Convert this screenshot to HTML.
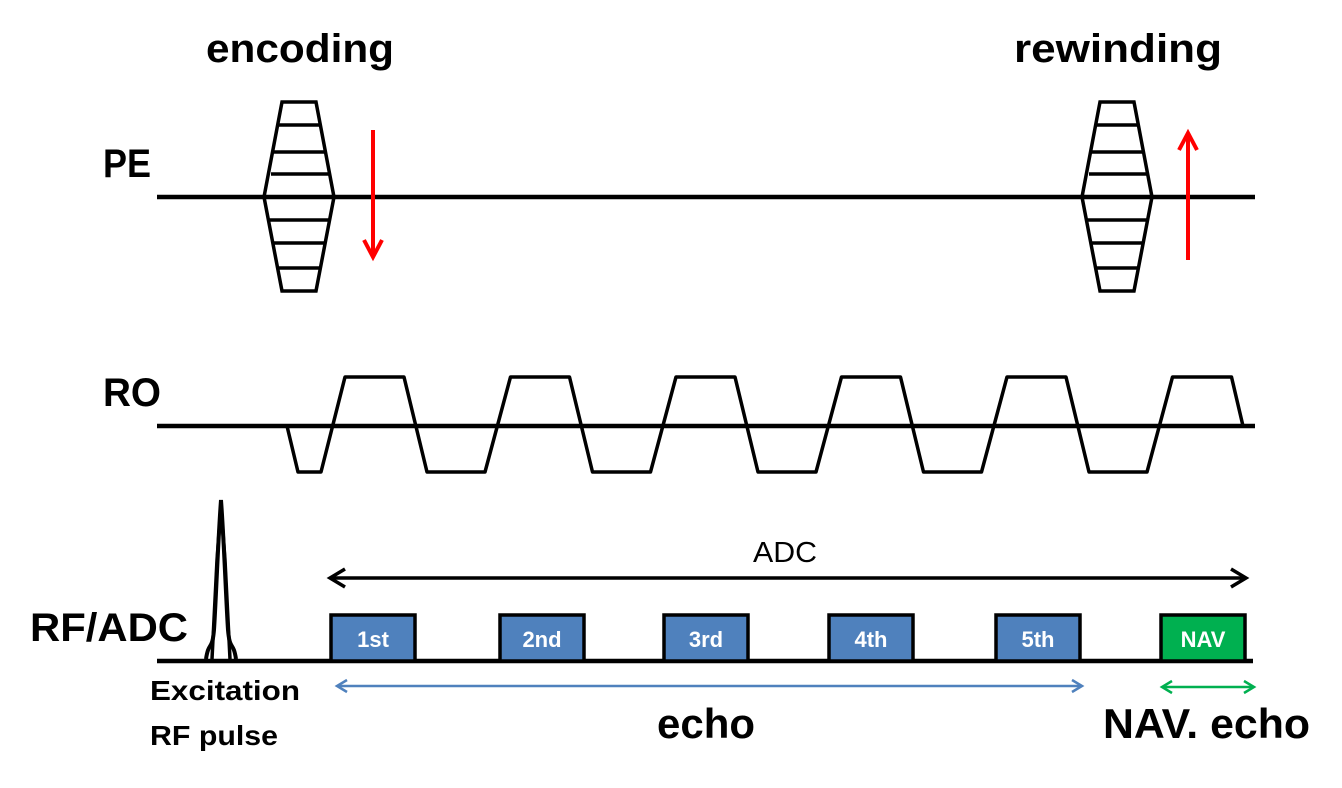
<!DOCTYPE html>
<html><head><meta charset="utf-8"><style>html,body{margin:0;padding:0;background:#fff}svg{display:block}</style></head>
<body>
<svg width="1342" height="788" viewBox="0 0 1342 788" xmlns="http://www.w3.org/2000/svg" font-family="Liberation Sans, sans-serif" font-weight="bold">
<!-- labels -->
<text x="300" y="62" font-size="40" text-anchor="middle" textLength="188" lengthAdjust="spacingAndGlyphs">encoding</text>
<text x="1118" y="62" font-size="40" text-anchor="middle" textLength="208" lengthAdjust="spacingAndGlyphs">rewinding</text>
<text x="103" y="177" font-size="40" textLength="48" lengthAdjust="spacingAndGlyphs">PE</text>
<text x="103" y="406" font-size="40" textLength="58" lengthAdjust="spacingAndGlyphs">RO</text>
<text x="30" y="641" font-size="40" textLength="158" lengthAdjust="spacingAndGlyphs">RF/ADC</text>
<text x="785" y="562" font-size="29" font-weight="normal" text-anchor="middle" textLength="64" lengthAdjust="spacingAndGlyphs">ADC</text>
<text x="150" y="700" font-size="28" textLength="150" lengthAdjust="spacingAndGlyphs">Excitation</text>
<text x="150" y="745" font-size="28" textLength="128" lengthAdjust="spacingAndGlyphs">RF pulse</text>
<text x="706" y="738" font-size="42" text-anchor="middle" textLength="98" lengthAdjust="spacingAndGlyphs">echo</text>
<text x="1103" y="738" font-size="42" textLength="207" lengthAdjust="spacingAndGlyphs">NAV. echo</text>

<g stroke="#000" stroke-width="4.5" fill="none">
<line x1="157" y1="197" x2="1255" y2="197"/>
<path d="M282,102 L316,102 L334,197 L316,291 L282,291 L264,197 Z" stroke-width="3.5"/>
<path d="M278,125 L321,125 M274,152 L325,152 M271,174 L329,174 M269,220 L330,220 M273,243 L325,243 M277,268 L321,268" stroke-width="3.5"/>
<path d="M1100,102 L1134,102 L1152,197 L1134,291 L1100,291 L1082,197 Z" stroke-width="3.5"/>
<path d="M1096,125 L1139,125 M1092,152 L1143,152 M1089,174 L1147,174 M1087,220 L1148,220 M1091,243 L1143,243 M1095,268 L1139,268" stroke-width="3.5"/>
<line x1="157" y1="426" x2="1255" y2="426"/>
<path stroke-width="3.5" stroke-linejoin="round" d="M287,426 L298,472 L321,472 L345,377 L404,377 L427,472 L485,472 L510.5,377 L569.5,377 L592.5,472 L650.5,472 L676,377 L735,377 L758,472 L816,472 L841.5,377 L900.5,377 L923.5,472 L981.5,472 L1007,377 L1066,377 L1089,472 L1147,472 L1172.5,377 L1231.5,377 L1243,426"/>
<line x1="157" y1="661" x2="1253" y2="661"/>
<path stroke-width="4" d="M206,659 C209,640 212,652 214,630 C216,600 218,540 221,500 C224,540 226,600 228,630 C230,652 233,640 236,659"/>
<path stroke-width="3.5" d="M212,659 L217,560 L221,505 L225,560 L230,659"/>
<line x1="330" y1="578" x2="1246" y2="578" stroke-width="3.5"/>
<path d="M345,569 L330,578 L345,587 M1231,569 L1246,578 L1231,587" stroke-width="3.5"/>
</g>
<g stroke="#ff0000" stroke-width="4" fill="none">
<line x1="373" y1="130" x2="373" y2="256"/>
<path d="M364,240 L373,257 L382,240"/>
<line x1="1188" y1="260" x2="1188" y2="134"/>
<path d="M1179,150 L1188,133 L1197,150"/>
</g>
<g stroke="#000" stroke-width="3.5">
<rect x="331" y="615" width="84" height="46" fill="#4f81bd"/>
<rect x="500" y="615" width="84" height="46" fill="#4f81bd"/>
<rect x="664" y="615" width="84" height="46" fill="#4f81bd"/>
<rect x="829" y="615" width="84" height="46" fill="#4f81bd"/>
<rect x="996" y="615" width="84" height="46" fill="#4f81bd"/>
<rect x="1161" y="615" width="84" height="46" fill="#00b050"/>
</g>
<g fill="#fff" font-size="22" text-anchor="middle">
<text x="373" y="647">1st</text>
<text x="542" y="647">2nd</text>
<text x="706" y="647">3rd</text>
<text x="871" y="647">4th</text>
<text x="1038" y="647">5th</text>
<text x="1203" y="647">NAV</text>
</g>
<g fill="none" stroke-width="2.5">
<line x1="337" y1="686" x2="1082" y2="686" stroke="#4f81bd"/>
<path d="M347,680 L337,686 L347,692 M1072,680 L1082,686 L1072,692" stroke="#4f81bd"/>
<line x1="1162" y1="687" x2="1254" y2="687" stroke="#00b050"/>
<path d="M1172,681 L1162,687 L1172,693 M1244,681 L1254,687 L1244,693" stroke="#00b050"/>
</g>
</svg>
</body></html>
